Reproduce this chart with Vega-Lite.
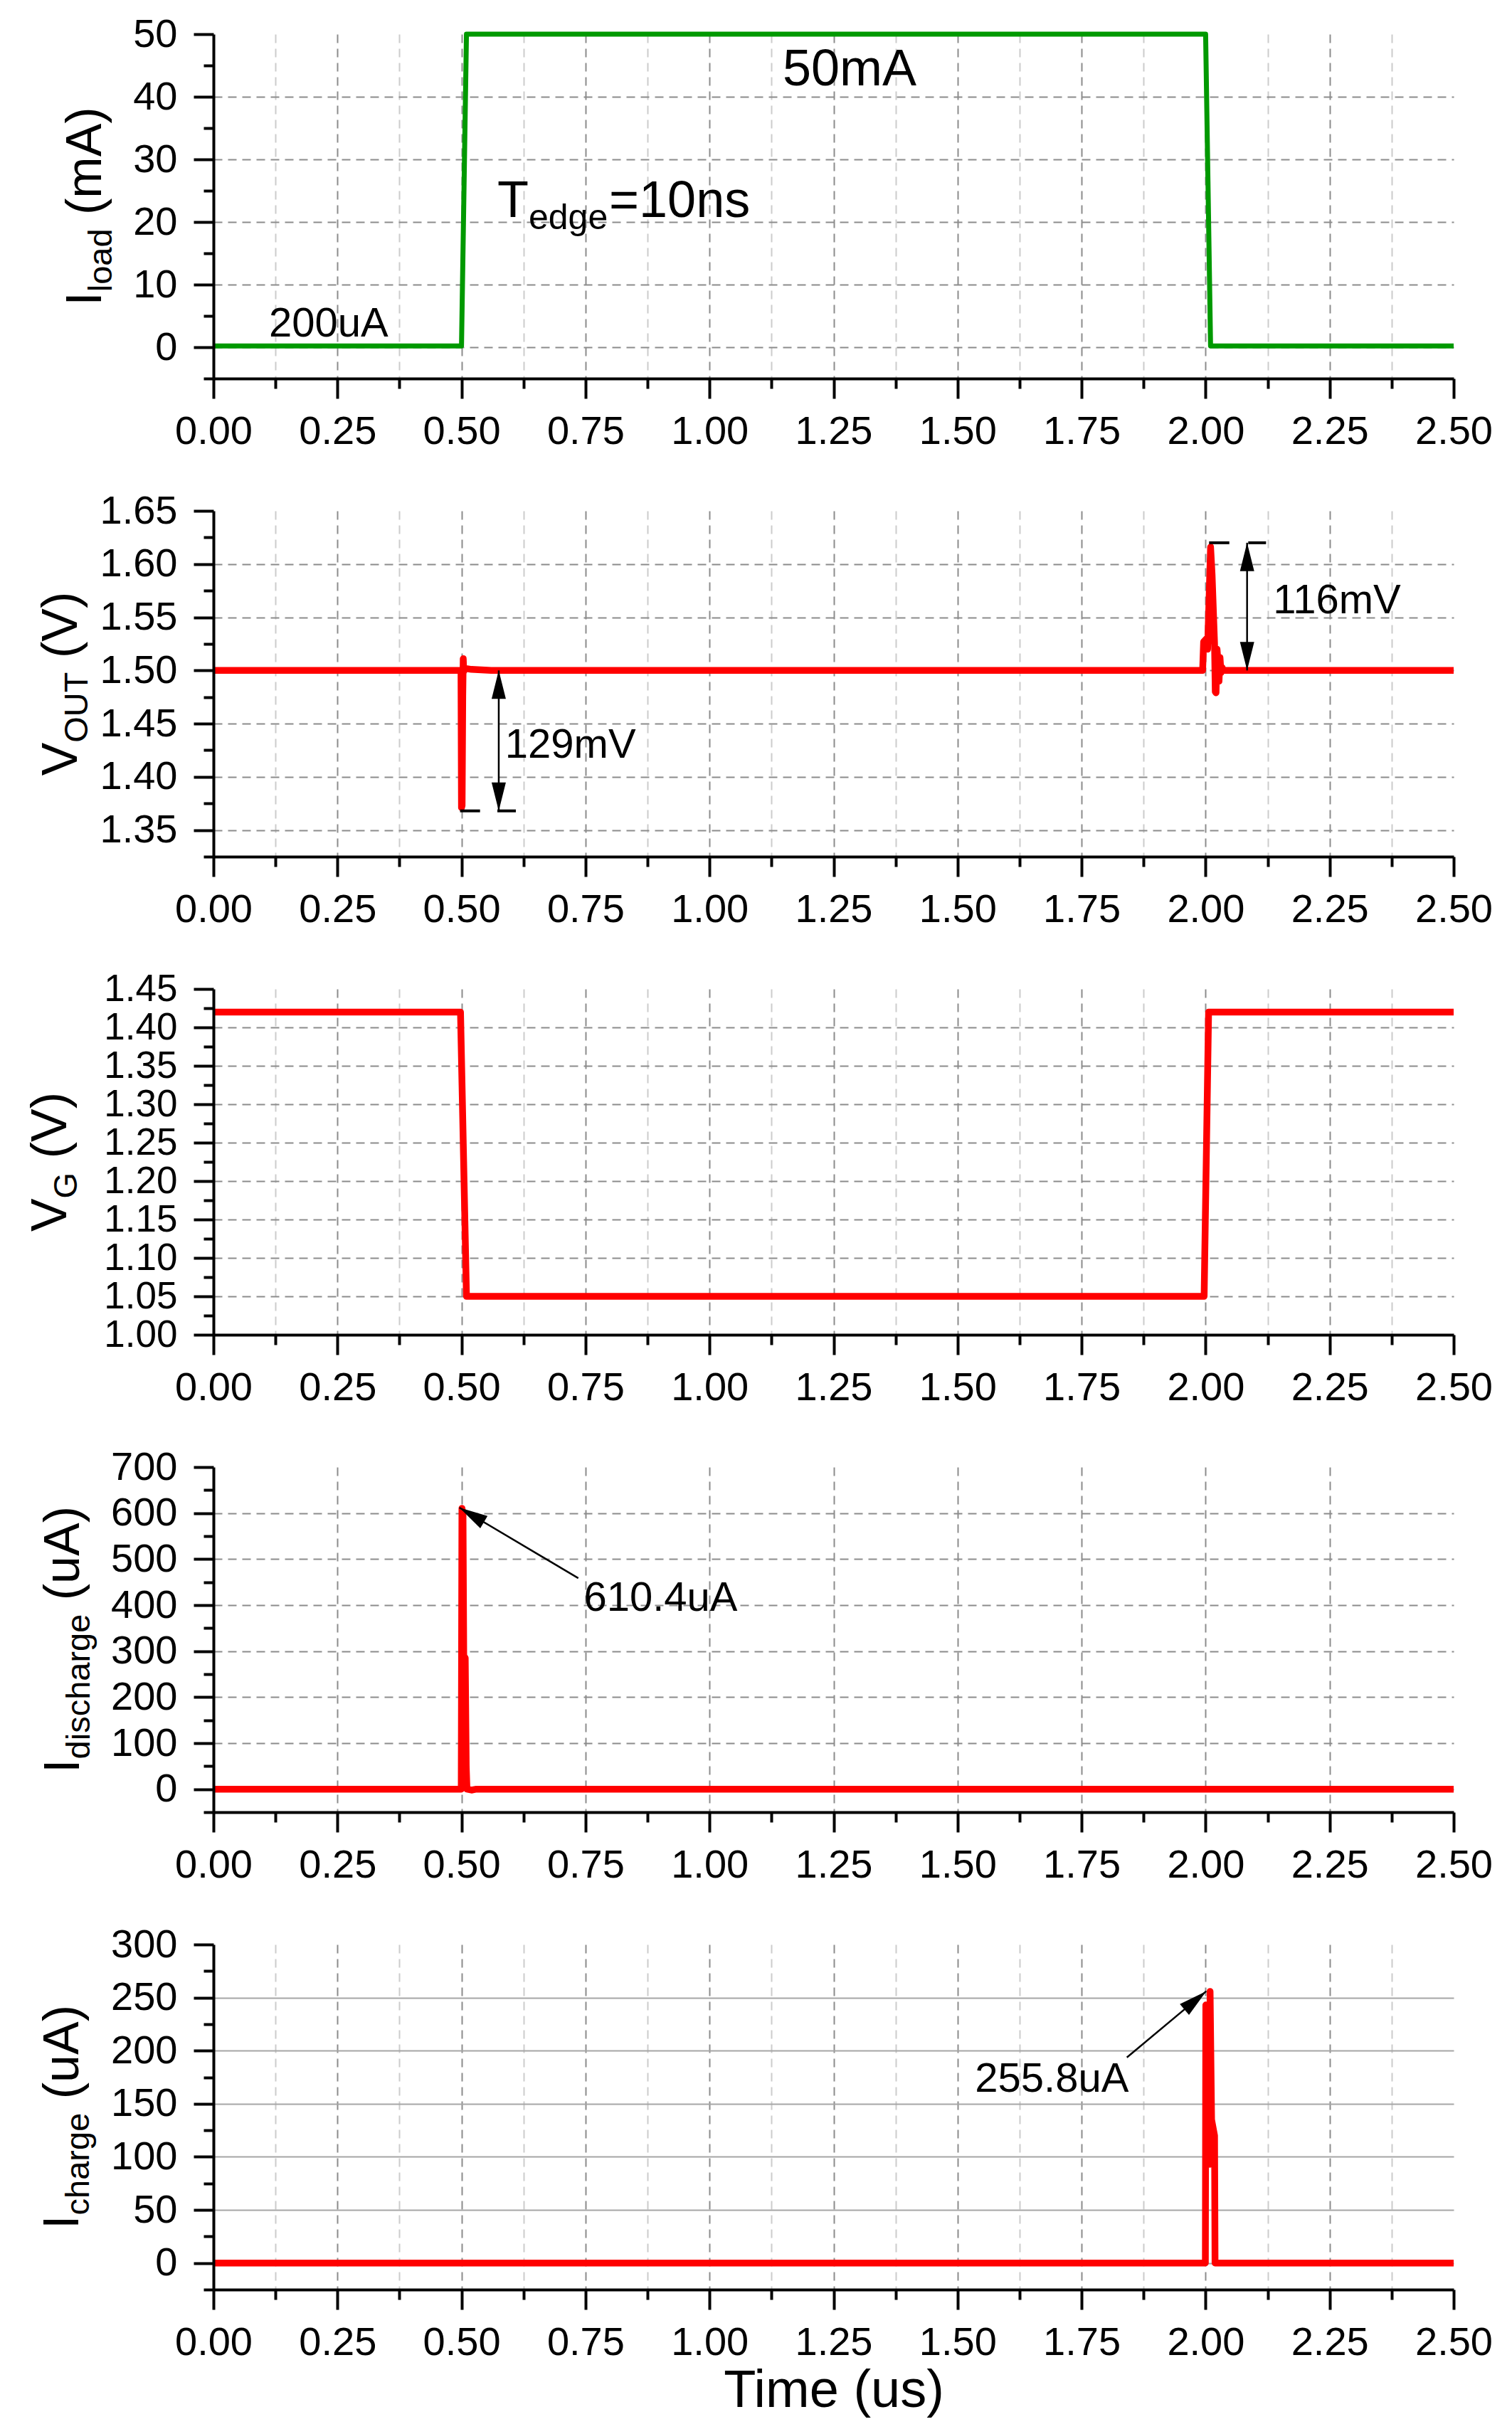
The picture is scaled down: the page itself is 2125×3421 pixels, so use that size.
{
"$schema": "https://vega.github.io/schema/vega-lite/v6.json",
"background": "white",
"padding": {"left": 37, "top": 20, "right": 10, "bottom": 10},
"bounds": "flush",
"spacing": 186,
"config": {
 "font": "Liberation Sans",
 "view": {"stroke": null},
 "axis": {"labelFont": "Liberation Sans", "labelFontSize": 56, "labelColor": "#000000", "tickColor": "#000000", "tickWidth": 4, "domainColor": "#000000", "domainWidth": 4, "labelOverlap": false, "labelFlush": false, "labelBound": false, "grid": false, "titleFont": "Liberation Sans", "titleColor": "#000000", "titleFontWeight": "normal"},
 "text": {"font": "Liberation Sans", "color": "#000000"}
},
"datasets": {
 "iload": [{"t":0,"v":0.2},{"t":0.5,"v":0.2},{"t":0.51,"v":50},{"t":2,"v":50},{"t":2.01,"v":0.2},{"t":2.5,"v":0.2}],
 "vout": [{"t":0,"v":1.5},{"t":0.499,"v":1.5},{"t":0.5,"v":1.371},{"t":0.5012,"v":1.373},{"t":0.5025,"v":1.476},{"t":0.5035,"v":1.511},{"t":0.5045,"v":1.499},{"t":0.507,"v":1.502},{"t":0.52,"v":1.501},{"t":0.56,"v":1.5},{"t":1.994,"v":1.5},{"t":1.996,"v":1.527},{"t":2.002,"v":1.53},{"t":2.004,"v":1.52},{"t":2.01,"v":1.616},{"t":2.013,"v":1.59},{"t":2.018,"v":1.525},{"t":2.0195,"v":1.48},{"t":2.021,"v":1.479},{"t":2.023,"v":1.52},{"t":2.025,"v":1.508},{"t":2.027,"v":1.49},{"t":2.029,"v":1.512},{"t":2.031,"v":1.498},{"t":2.033,"v":1.503},{"t":2.036,"v":1.5},{"t":2.5,"v":1.5}],
 "vg": [{"t":0,"v":1.42},{"t":0.498,"v":1.42},{"t":0.51,"v":1.05},{"t":1.997,"v":1.05},{"t":2.006,"v":1.42},{"t":2.5,"v":1.42}],
 "idis": [{"t":0,"v":0},{"t":0.4995,"v":0},{"t":0.5009,"v":610.4},{"t":0.503,"v":600},{"t":0.5045,"v":290},{"t":0.5075,"v":285},{"t":0.5095,"v":50},{"t":0.511,"v":0},{"t":0.52,"v":-2},{"t":0.53,"v":0},{"t":2.5,"v":0}],
 "ichg": [{"t":0,"v":0},{"t":1.9995,"v":0},{"t":2.0004,"v":243},{"t":2.0085,"v":93},{"t":2.009,"v":255.8},{"t":2.012,"v":135},{"t":2.018,"v":120},{"t":2.019,"v":0},{"t":2.5,"v":0}],
 "notes": [
  {"p":"p1","k":"yt","t":"I","x":-0.2266,"y":6.625},
  {"p":"p1","k":"ys","t":"load","x":-0.2266,"y":8.836},
  {"p":"p1","k":"yt","t":"(mA)","x":-0.2266,"y":21.142},
  {"p":"p1","k":"note","t":"200uA","x":0.1119,"y":1.7},
  {"p":"p1","k":"big","t":"50mA","x":1.1475,"y":41.8},
  {"p":"p1","k":"big","t":"T","x":0.5723,"y":20.8},
  {"p":"p1","k":"small","t":"edge","x":0.6354,"y":18.9},
  {"p":"p1","k":"big","t":"=10ns","x":0.7975,"y":20.8},
  {"p":"p2","k":"yt","t":"V","x":-0.275,"y":1.401},
  {"p":"p2","k":"ys","t":"OUT","x":-0.275,"y":1.4322},
  {"p":"p2","k":"yt","t":"(V)","x":-0.275,"y":1.5116},
  {"p":"p2","k":"note","t":"129mV","x":0.5878,"y":1.4177},
  {"p":"p2","k":"note","t":"116mV","x":2.136,"y":1.5537},
  {"p":"p3","k":"yt","t":"V","x":-0.2962,"y":1.1342},
  {"p":"p3","k":"ys","t":"G","x":-0.2962,"y":1.1774},
  {"p":"p3","k":"yt","t":"(V)","x":-0.2962,"y":1.2294},
  {"p":"p4","k":"yt","t":"I","x":-0.2711,"y":35.2},
  {"p":"p4","k":"ys","t":"discharge","x":-0.2711,"y":65.3},
  {"p":"p4","k":"yt","t":"(uA)","x":-0.2711,"y":410.4},
  {"p":"p4","k":"note","t":"610.4uA","x":0.7464,"y":388.4},
  {"p":"p5","k":"yt","t":"I","x":-0.2725,"y":32.03},
  {"p":"p5","k":"ys","t":"charge","x":-0.2725,"y":45.07},
  {"p":"p5","k":"yt","t":"(uA)","x":-0.2725,"y":154.4},
  {"p":"p5","k":"note","t":"255.8uA","x":1.5351,"y":161.2}
 ],
 "segs": [
  {"p":"p2","k":"bar","x":0.4971,"x2":0.5374,"y":1.368,"y2":1.368},
  {"p":"p2","k":"bar","x":0.5723,"x2":0.6096,"y":1.368,"y2":1.368},
  {"p":"p2","k":"bar","x":2.007,"x2":2.0478,"y":1.62,"y2":1.62},
  {"p":"p2","k":"bar","x":2.0859,"x2":2.1218,"y":1.62,"y2":1.62},
  {"p":"p2","k":"shaft","x":0.5751,"x2":0.5751,"y":1.5,"y2":1.368},
  {"p":"p2","k":"shaft","x":2.0836,"x2":2.0836,"y":1.62,"y2":1.5},
  {"p":"p4","k":"shaft","x":0.7354,"x2":0.4958,"y":458.5,"y2":611.8},
  {"p":"p5","k":"shaft","x":1.8413,"x2":2.0013,"y":193.6,"y2":256}
 ],
 "heads": [
  {"p":"p2","x":0.5751,"y":1.5,"dir":0},
  {"p":"p2","x":0.5751,"y":1.368,"dir":180},
  {"p":"p2","x":2.0836,"y":1.62,"dir":0},
  {"p":"p2","x":2.0836,"y":1.5,"dir":180},
  {"p":"p4","x":0.4958,"y":611.8,"dir":300.6},
  {"p":"p5","x":2.0013,"y":256,"dir":50.1}
 ]
},
"vconcat": [
 {
  "width": 1743, "height": 484,
  "resolve": {"axis": {"x": "independent", "y": "independent"}},
  "layer": [
   {"data": {"name": "iload"}, "mark": {"type": "line", "strokeOpacity": 0},
    "encoding": {
     "x": {"field": "t", "type": "quantitative", "scale": {"domain": [0, 2.5], "nice": false, "zero": false}, "axis": {"orient": "bottom", "values": [0.25,0.5,0.75,1,1.25,1.5,1.75,2,2.25], "grid": true, "gridColor": "#8c8c8c", "gridDash": [12,8], "gridWidth": 2, "ticks": false, "labels": false, "domain": false, "title": null}},
     "y": {"field": "v", "type": "quantitative", "scale": {"domain": [-5, 50], "nice": false, "zero": false}, "axis": {"orient": "left", "values": [0,10,20,30,40], "grid": true, "gridColor": "#8c8c8c", "gridDash": [12,8], "gridWidth": 2, "ticks": false, "labels": false, "domain": false, "title": null}}
    }},
   {"data": {"name": "iload"}, "mark": {"type": "line", "strokeOpacity": 0},
    "encoding": {
     "x": {"field": "t", "type": "quantitative", "scale": {"domain": [0, 2.5], "nice": false, "zero": false}, "axis": {"orient": "bottom", "values": [0.125,0.375,0.625,0.875,1.125,1.375,1.625,1.875,2.125,2.375], "grid": true, "gridColor": "#cccccc", "gridDash": [12,8], "gridWidth": 2, "ticks": true, "tickSize": 14, "labels": false, "domain": false, "title": null}},
     "y": {"field": "v", "type": "quantitative", "scale": {"domain": [-5, 50], "nice": false, "zero": false}, "axis": {"orient": "left", "values": [-5,5,15,25,35,45], "ticks": true, "tickSize": 14, "labels": false, "domain": false, "title": null}}
    }},
   {"data": {"name": "iload"}, "mark": {"type": "line", "color": "#009900", "strokeWidth": 7, "strokeJoin": "round"},
    "encoding": {
     "x": {"field": "t", "type": "quantitative", "scale": {"domain": [0, 2.5], "nice": false, "zero": false}, "axis": {"orient": "bottom", "values": [0,0.25,0.5,0.75,1,1.25,1.5,1.75,2,2.25,2.5], "format": ".2f", "tickSize": 28, "labelPadding": 19, "title": null, "zindex": 1}},
     "y": {"field": "v", "type": "quantitative", "scale": {"domain": [-5, 50], "nice": false, "zero": false}, "axis": {"orient": "left", "values": [0,10,20,30,40,50], "format": "d", "tickSize": 28, "labelPadding": 23, "title": null, "zindex": 1}}
    }},
   {"data": {"name": "notes"}, "transform": [{"filter": "datum.p == 'p1' && datum.k == 'yt'"}],
    "mark": {"type": "text", "fontSize": 70, "angle": 270, "align": "left", "baseline": "alphabetic"},
    "encoding": {"x": {"field": "x", "type": "quantitative", "scale": {"domain": [0, 2.5], "nice": false, "zero": false}, "axis": null}, "y": {"field": "y", "type": "quantitative", "scale": {"domain": [-5, 50], "nice": false, "zero": false}, "axis": null}, "text": {"field": "t"}}},
   {"data": {"name": "notes"}, "transform": [{"filter": "datum.p == 'p1' && datum.k == 'ys'"}],
    "mark": {"type": "text", "fontSize": 47, "angle": 270, "align": "left", "baseline": "alphabetic", "dy": 15},
    "encoding": {"x": {"field": "x", "type": "quantitative", "scale": {"domain": [0, 2.5], "nice": false, "zero": false}, "axis": null}, "y": {"field": "y", "type": "quantitative", "scale": {"domain": [-5, 50], "nice": false, "zero": false}, "axis": null}, "text": {"field": "t"}}},
   {"data": {"name": "notes"}, "transform": [{"filter": "datum.p == 'p1' && datum.k == 'note'"}],
    "mark": {"type": "text", "fontSize": 58, "align": "left", "baseline": "alphabetic"},
    "encoding": {"x": {"field": "x", "type": "quantitative", "scale": {"domain": [0, 2.5], "nice": false, "zero": false}, "axis": null}, "y": {"field": "y", "type": "quantitative", "scale": {"domain": [-5, 50], "nice": false, "zero": false}, "axis": null}, "text": {"field": "t"}}},
   {"data": {"name": "notes"}, "transform": [{"filter": "datum.p == 'p1' && datum.k == 'big'"}],
    "mark": {"type": "text", "fontSize": 72, "align": "left", "baseline": "alphabetic"},
    "encoding": {"x": {"field": "x", "type": "quantitative", "scale": {"domain": [0, 2.5], "nice": false, "zero": false}, "axis": null}, "y": {"field": "y", "type": "quantitative", "scale": {"domain": [-5, 50], "nice": false, "zero": false}, "axis": null}, "text": {"field": "t"}}},
   {"data": {"name": "notes"}, "transform": [{"filter": "datum.p == 'p1' && datum.k == 'small'"}],
    "mark": {"type": "text", "fontSize": 50, "align": "left", "baseline": "alphabetic"},
    "encoding": {"x": {"field": "x", "type": "quantitative", "scale": {"domain": [0, 2.5], "nice": false, "zero": false}, "axis": null}, "y": {"field": "y", "type": "quantitative", "scale": {"domain": [-5, 50], "nice": false, "zero": false}, "axis": null}, "text": {"field": "t"}}}
  ]
 },
 {
  "width": 1743, "height": 486,
  "resolve": {"axis": {"x": "independent", "y": "independent"}},
  "layer": [
   {"data": {"name": "vout"}, "mark": {"type": "line", "strokeOpacity": 0},
    "encoding": {
     "x": {"field": "t", "type": "quantitative", "scale": {"domain": [0, 2.5], "nice": false, "zero": false}, "axis": {"orient": "bottom", "values": [0.25,0.5,0.75,1,1.25,1.5,1.75,2,2.25], "grid": true, "gridColor": "#8c8c8c", "gridDash": [12,8], "gridWidth": 2, "ticks": false, "labels": false, "domain": false, "title": null}},
     "y": {"field": "v", "type": "quantitative", "scale": {"domain": [1.325, 1.65], "nice": false, "zero": false}, "axis": {"orient": "left", "values": [1.35,1.4,1.45,1.5,1.55,1.6], "grid": true, "gridColor": "#8c8c8c", "gridDash": [12,8], "gridWidth": 2, "ticks": false, "labels": false, "domain": false, "title": null}}
    }},
   {"data": {"name": "vout"}, "mark": {"type": "line", "strokeOpacity": 0},
    "encoding": {
     "x": {"field": "t", "type": "quantitative", "scale": {"domain": [0, 2.5], "nice": false, "zero": false}, "axis": {"orient": "bottom", "values": [0.125,0.375,0.625,0.875,1.125,1.375,1.625,1.875,2.125,2.375], "grid": true, "gridColor": "#cccccc", "gridDash": [12,8], "gridWidth": 2, "ticks": true, "tickSize": 14, "labels": false, "domain": false, "title": null}},
     "y": {"field": "v", "type": "quantitative", "scale": {"domain": [1.325, 1.65], "nice": false, "zero": false}, "axis": {"orient": "left", "values": [1.325,1.375,1.425,1.475,1.525,1.575,1.625], "ticks": true, "tickSize": 14, "labels": false, "domain": false, "title": null}}
    }},
   {"data": {"name": "vout"}, "mark": {"type": "line", "color": "#ff0000", "strokeWidth": 9.5, "strokeJoin": "round"},
    "encoding": {
     "x": {"field": "t", "type": "quantitative", "scale": {"domain": [0, 2.5], "nice": false, "zero": false}, "axis": {"orient": "bottom", "values": [0,0.25,0.5,0.75,1,1.25,1.5,1.75,2,2.25,2.5], "format": ".2f", "tickSize": 28, "labelPadding": 19, "title": null, "zindex": 1}},
     "y": {"field": "v", "type": "quantitative", "scale": {"domain": [1.325, 1.65], "nice": false, "zero": false}, "axis": {"orient": "left", "values": [1.35,1.4,1.45,1.5,1.55,1.6,1.65], "format": ".2f", "tickSize": 28, "labelPadding": 23, "title": null, "zindex": 1}}
    }},
   {"data": {"name": "segs"}, "transform": [{"filter": "datum.p == 'p2' && datum.k == 'bar'"}],
    "mark": {"type": "rule", "color": "#000000", "strokeWidth": 4},
    "encoding": {"x": {"field": "x", "type": "quantitative", "scale": {"domain": [0, 2.5], "nice": false, "zero": false}, "axis": null}, "x2": {"field": "x2"}, "y": {"field": "y", "type": "quantitative", "scale": {"domain": [1.325, 1.65], "nice": false, "zero": false}, "axis": null}, "y2": {"field": "y2"}}},
   {"data": {"name": "segs"}, "transform": [{"filter": "datum.p == 'p2' && datum.k == 'shaft'"}],
    "mark": {"type": "rule", "color": "#000000", "strokeWidth": 2.5},
    "encoding": {"x": {"field": "x", "type": "quantitative", "scale": {"domain": [0, 2.5], "nice": false, "zero": false}, "axis": null}, "x2": {"field": "x2"}, "y": {"field": "y", "type": "quantitative", "scale": {"domain": [1.325, 1.65], "nice": false, "zero": false}, "axis": null}, "y2": {"field": "y2"}}},
   {"data": {"name": "heads"}, "transform": [{"filter": "datum.p == 'p2'"}],
    "mark": {"type": "point", "shape": "M0,0L0.5,2L-0.5,2Z", "filled": true, "color": "#000000", "opacity": 1, "size": 1600, "strokeWidth": 0},
    "encoding": {"x": {"field": "x", "type": "quantitative", "scale": {"domain": [0, 2.5], "nice": false, "zero": false}, "axis": null}, "y": {"field": "y", "type": "quantitative", "scale": {"domain": [1.325, 1.65], "nice": false, "zero": false}, "axis": null}, "angle": {"field": "dir", "type": "quantitative", "scale": null}}},
   {"data": {"name": "notes"}, "transform": [{"filter": "datum.p == 'p2' && datum.k == 'yt'"}],
    "mark": {"type": "text", "fontSize": 70, "angle": 270, "align": "left", "baseline": "alphabetic"},
    "encoding": {"x": {"field": "x", "type": "quantitative", "scale": {"domain": [0, 2.5], "nice": false, "zero": false}, "axis": null}, "y": {"field": "y", "type": "quantitative", "scale": {"domain": [1.325, 1.65], "nice": false, "zero": false}, "axis": null}, "text": {"field": "t"}}},
   {"data": {"name": "notes"}, "transform": [{"filter": "datum.p == 'p2' && datum.k == 'ys'"}],
    "mark": {"type": "text", "fontSize": 47, "angle": 270, "align": "left", "baseline": "alphabetic", "dy": 15},
    "encoding": {"x": {"field": "x", "type": "quantitative", "scale": {"domain": [0, 2.5], "nice": false, "zero": false}, "axis": null}, "y": {"field": "y", "type": "quantitative", "scale": {"domain": [1.325, 1.65], "nice": false, "zero": false}, "axis": null}, "text": {"field": "t"}}},
   {"data": {"name": "notes"}, "transform": [{"filter": "datum.p == 'p2' && datum.k == 'note'"}],
    "mark": {"type": "text", "fontSize": 58, "align": "left", "baseline": "alphabetic"},
    "encoding": {"x": {"field": "x", "type": "quantitative", "scale": {"domain": [0, 2.5], "nice": false, "zero": false}, "axis": null}, "y": {"field": "y", "type": "quantitative", "scale": {"domain": [1.325, 1.65], "nice": false, "zero": false}, "axis": null}, "text": {"field": "t"}}}
  ]
 },
 {
  "width": 1743, "height": 486,
  "resolve": {"axis": {"x": "independent", "y": "independent"}},
  "layer": [
   {"data": {"name": "vg"}, "mark": {"type": "line", "strokeOpacity": 0},
    "encoding": {
     "x": {"field": "t", "type": "quantitative", "scale": {"domain": [0, 2.5], "nice": false, "zero": false}, "axis": {"orient": "bottom", "values": [0.25,0.5,0.75,1,1.25,1.5,1.75,2,2.25], "grid": true, "gridColor": "#8c8c8c", "gridDash": [12,8], "gridWidth": 2, "ticks": false, "labels": false, "domain": false, "title": null}},
     "y": {"field": "v", "type": "quantitative", "scale": {"domain": [1.0, 1.45], "nice": false, "zero": false}, "axis": {"orient": "left", "values": [1.05,1.1,1.15,1.2,1.25,1.3,1.35,1.4], "grid": true, "gridColor": "#8c8c8c", "gridDash": [12,8], "gridWidth": 2, "ticks": false, "labels": false, "domain": false, "title": null}}
    }},
   {"data": {"name": "vg"}, "mark": {"type": "line", "strokeOpacity": 0},
    "encoding": {
     "x": {"field": "t", "type": "quantitative", "scale": {"domain": [0, 2.5], "nice": false, "zero": false}, "axis": {"orient": "bottom", "values": [0.125,0.375,0.625,0.875,1.125,1.375,1.625,1.875,2.125,2.375], "grid": true, "gridColor": "#cccccc", "gridDash": [12,8], "gridWidth": 2, "ticks": true, "tickSize": 14, "labels": false, "domain": false, "title": null}},
     "y": {"field": "v", "type": "quantitative", "scale": {"domain": [1.0, 1.45], "nice": false, "zero": false}, "axis": {"orient": "left", "values": [1.025,1.075,1.125,1.175,1.225,1.275,1.325,1.375,1.425], "ticks": true, "tickSize": 14, "labels": false, "domain": false, "title": null}}
    }},
   {"data": {"name": "vg"}, "mark": {"type": "line", "color": "#ff0000", "strokeWidth": 9.5, "strokeJoin": "round"},
    "encoding": {
     "x": {"field": "t", "type": "quantitative", "scale": {"domain": [0, 2.5], "nice": false, "zero": false}, "axis": {"orient": "bottom", "values": [0,0.25,0.5,0.75,1,1.25,1.5,1.75,2,2.25,2.5], "format": ".2f", "tickSize": 28, "labelPadding": 19, "title": null, "zindex": 1}},
     "y": {"field": "v", "type": "quantitative", "scale": {"domain": [1.0, 1.45], "nice": false, "zero": false}, "axis": {"orient": "left", "values": [1.0,1.05,1.1,1.15,1.2,1.25,1.3,1.35,1.4,1.45], "format": ".2f", "labelFontSize": 53, "tickSize": 28, "labelPadding": 23, "title": null, "zindex": 1}}
    }},
   {"data": {"name": "notes"}, "transform": [{"filter": "datum.p == 'p3' && datum.k == 'yt'"}],
    "mark": {"type": "text", "fontSize": 70, "angle": 270, "align": "left", "baseline": "alphabetic"},
    "encoding": {"x": {"field": "x", "type": "quantitative", "scale": {"domain": [0, 2.5], "nice": false, "zero": false}, "axis": null}, "y": {"field": "y", "type": "quantitative", "scale": {"domain": [1.0, 1.45], "nice": false, "zero": false}, "axis": null}, "text": {"field": "t"}}},
   {"data": {"name": "notes"}, "transform": [{"filter": "datum.p == 'p3' && datum.k == 'ys'"}],
    "mark": {"type": "text", "fontSize": 47, "angle": 270, "align": "left", "baseline": "alphabetic", "dy": 15},
    "encoding": {"x": {"field": "x", "type": "quantitative", "scale": {"domain": [0, 2.5], "nice": false, "zero": false}, "axis": null}, "y": {"field": "y", "type": "quantitative", "scale": {"domain": [1.0, 1.45], "nice": false, "zero": false}, "axis": null}, "text": {"field": "t"}}}
  ]
 },
 {
  "width": 1743, "height": 485,
  "resolve": {"axis": {"x": "independent", "y": "independent"}},
  "layer": [
   {"data": {"name": "idis"}, "mark": {"type": "line", "strokeOpacity": 0},
    "encoding": {
     "x": {"field": "t", "type": "quantitative", "scale": {"domain": [0, 2.5], "nice": false, "zero": false}, "axis": {"orient": "bottom", "values": [0.25,0.5,0.75,1,1.25,1.5,1.75,2,2.25], "grid": true, "gridColor": "#8c8c8c", "gridDash": [12,8], "gridWidth": 2, "ticks": false, "labels": false, "domain": false, "title": null}},
     "y": {"field": "v", "type": "quantitative", "scale": {"domain": [-50, 700], "nice": false, "zero": false}, "axis": {"orient": "left", "values": [0,100,200,300,400,500,600], "grid": true, "gridColor": "#8c8c8c", "gridDash": [12,8], "gridWidth": 2, "ticks": false, "labels": false, "domain": false, "title": null}}
    }},
   {"data": {"name": "idis"}, "mark": {"type": "line", "strokeOpacity": 0},
    "encoding": {
     "x": {"field": "t", "type": "quantitative", "scale": {"domain": [0, 2.5], "nice": false, "zero": false}, "axis": {"orient": "bottom", "values": [0.125,0.375,0.625,0.875,1.125,1.375,1.625,1.875,2.125,2.375], "grid": false, "ticks": true, "tickSize": 14, "labels": false, "domain": false, "title": null}},
     "y": {"field": "v", "type": "quantitative", "scale": {"domain": [-50, 700], "nice": false, "zero": false}, "axis": {"orient": "left", "values": [-50,50,150,250,350,450,550,650], "ticks": true, "tickSize": 14, "labels": false, "domain": false, "title": null}}
    }},
   {"data": {"name": "idis"}, "mark": {"type": "line", "color": "#ff0000", "strokeWidth": 9.5, "strokeJoin": "round"},
    "encoding": {
     "x": {"field": "t", "type": "quantitative", "scale": {"domain": [0, 2.5], "nice": false, "zero": false}, "axis": {"orient": "bottom", "values": [0,0.25,0.5,0.75,1,1.25,1.5,1.75,2,2.25,2.5], "format": ".2f", "tickSize": 28, "labelPadding": 19, "title": null, "zindex": 1}},
     "y": {"field": "v", "type": "quantitative", "scale": {"domain": [-50, 700], "nice": false, "zero": false}, "axis": {"orient": "left", "values": [0,100,200,300,400,500,600,700], "format": "d", "tickSize": 28, "labelPadding": 23, "title": null, "zindex": 1}}
    }},
   {"data": {"name": "segs"}, "transform": [{"filter": "datum.p == 'p4'"}],
    "mark": {"type": "rule", "color": "#000000", "strokeWidth": 2.5},
    "encoding": {"x": {"field": "x", "type": "quantitative", "scale": {"domain": [0, 2.5], "nice": false, "zero": false}, "axis": null}, "x2": {"field": "x2"}, "y": {"field": "y", "type": "quantitative", "scale": {"domain": [-50, 700], "nice": false, "zero": false}, "axis": null}, "y2": {"field": "y2"}}},
   {"data": {"name": "heads"}, "transform": [{"filter": "datum.p == 'p4'"}],
    "mark": {"type": "point", "shape": "M0,0L0.5,2L-0.5,2Z", "filled": true, "color": "#000000", "opacity": 1, "size": 1600, "strokeWidth": 0},
    "encoding": {"x": {"field": "x", "type": "quantitative", "scale": {"domain": [0, 2.5], "nice": false, "zero": false}, "axis": null}, "y": {"field": "y", "type": "quantitative", "scale": {"domain": [-50, 700], "nice": false, "zero": false}, "axis": null}, "angle": {"field": "dir", "type": "quantitative", "scale": null}}},
   {"data": {"name": "notes"}, "transform": [{"filter": "datum.p == 'p4' && datum.k == 'yt'"}],
    "mark": {"type": "text", "fontSize": 70, "angle": 270, "align": "left", "baseline": "alphabetic"},
    "encoding": {"x": {"field": "x", "type": "quantitative", "scale": {"domain": [0, 2.5], "nice": false, "zero": false}, "axis": null}, "y": {"field": "y", "type": "quantitative", "scale": {"domain": [-50, 700], "nice": false, "zero": false}, "axis": null}, "text": {"field": "t"}}},
   {"data": {"name": "notes"}, "transform": [{"filter": "datum.p == 'p4' && datum.k == 'ys'"}],
    "mark": {"type": "text", "fontSize": 47, "angle": 270, "align": "left", "baseline": "alphabetic", "dy": 15},
    "encoding": {"x": {"field": "x", "type": "quantitative", "scale": {"domain": [0, 2.5], "nice": false, "zero": false}, "axis": null}, "y": {"field": "y", "type": "quantitative", "scale": {"domain": [-50, 700], "nice": false, "zero": false}, "axis": null}, "text": {"field": "t"}}},
   {"data": {"name": "notes"}, "transform": [{"filter": "datum.p == 'p4' && datum.k == 'note'"}],
    "mark": {"type": "text", "fontSize": 58, "align": "left", "baseline": "alphabetic"},
    "encoding": {"x": {"field": "x", "type": "quantitative", "scale": {"domain": [0, 2.5], "nice": false, "zero": false}, "axis": null}, "y": {"field": "y", "type": "quantitative", "scale": {"domain": [-50, 700], "nice": false, "zero": false}, "axis": null}, "text": {"field": "t"}}}
  ]
 },
 {
  "width": 1743, "height": 485,
  "resolve": {"axis": {"x": "independent", "y": "independent"}},
  "layer": [
   {"data": {"name": "ichg"}, "mark": {"type": "line", "strokeOpacity": 0},
    "encoding": {
     "x": {"field": "t", "type": "quantitative", "scale": {"domain": [0, 2.5], "nice": false, "zero": false}, "axis": {"orient": "bottom", "values": [0.25,0.5,0.75,1,1.25,1.5,1.75,2,2.25], "grid": true, "gridColor": "#8c8c8c", "gridDash": [12,8], "gridWidth": 2, "ticks": false, "labels": false, "domain": false, "title": null}},
     "y": {"field": "v", "type": "quantitative", "scale": {"domain": [-25, 300], "nice": false, "zero": false}, "axis": {"orient": "left", "values": [0,50,100,150,200,250], "grid": true, "gridColor": "#a6a6a6", "gridWidth": 2, "ticks": false, "labels": false, "domain": false, "title": null}}
    }},
   {"data": {"name": "ichg"}, "mark": {"type": "line", "strokeOpacity": 0},
    "encoding": {
     "x": {"field": "t", "type": "quantitative", "scale": {"domain": [0, 2.5], "nice": false, "zero": false}, "axis": {"orient": "bottom", "values": [0.125,0.375,0.625,0.875,1.125,1.375,1.625,1.875,2.125,2.375], "grid": true, "gridColor": "#cccccc", "gridDash": [12,8], "gridWidth": 2, "ticks": true, "tickSize": 14, "labels": false, "domain": false, "title": null}},
     "y": {"field": "v", "type": "quantitative", "scale": {"domain": [-25, 300], "nice": false, "zero": false}, "axis": {"orient": "left", "values": [-25,25,75,125,175,225,275], "ticks": true, "tickSize": 14, "labels": false, "domain": false, "title": null}}
    }},
   {"data": {"name": "ichg"}, "mark": {"type": "line", "color": "#ff0000", "strokeWidth": 9.5, "strokeJoin": "round"},
    "encoding": {
     "x": {"field": "t", "type": "quantitative", "scale": {"domain": [0, 2.5], "nice": false, "zero": false}, "axis": {"orient": "bottom", "values": [0,0.25,0.5,0.75,1,1.25,1.5,1.75,2,2.25,2.5], "format": ".2f", "tickSize": 28, "labelPadding": 19, "title": "Time (us)", "titleFontSize": 74, "titleY": 164, "titleBaseline": "alphabetic", "zindex": 1}},
     "y": {"field": "v", "type": "quantitative", "scale": {"domain": [-25, 300], "nice": false, "zero": false}, "axis": {"orient": "left", "values": [0,50,100,150,200,250,300], "format": "d", "tickSize": 28, "labelPadding": 23, "title": null, "zindex": 1}}
    }},
   {"data": {"name": "segs"}, "transform": [{"filter": "datum.p == 'p5'"}],
    "mark": {"type": "rule", "color": "#000000", "strokeWidth": 2.5},
    "encoding": {"x": {"field": "x", "type": "quantitative", "scale": {"domain": [0, 2.5], "nice": false, "zero": false}, "axis": null}, "x2": {"field": "x2"}, "y": {"field": "y", "type": "quantitative", "scale": {"domain": [-25, 300], "nice": false, "zero": false}, "axis": null}, "y2": {"field": "y2"}}},
   {"data": {"name": "heads"}, "transform": [{"filter": "datum.p == 'p5'"}],
    "mark": {"type": "point", "shape": "M0,0L0.5,2L-0.5,2Z", "filled": true, "color": "#000000", "opacity": 1, "size": 1600, "strokeWidth": 0},
    "encoding": {"x": {"field": "x", "type": "quantitative", "scale": {"domain": [0, 2.5], "nice": false, "zero": false}, "axis": null}, "y": {"field": "y", "type": "quantitative", "scale": {"domain": [-25, 300], "nice": false, "zero": false}, "axis": null}, "angle": {"field": "dir", "type": "quantitative", "scale": null}}},
   {"data": {"name": "notes"}, "transform": [{"filter": "datum.p == 'p5' && datum.k == 'yt'"}],
    "mark": {"type": "text", "fontSize": 70, "angle": 270, "align": "left", "baseline": "alphabetic"},
    "encoding": {"x": {"field": "x", "type": "quantitative", "scale": {"domain": [0, 2.5], "nice": false, "zero": false}, "axis": null}, "y": {"field": "y", "type": "quantitative", "scale": {"domain": [-25, 300], "nice": false, "zero": false}, "axis": null}, "text": {"field": "t"}}},
   {"data": {"name": "notes"}, "transform": [{"filter": "datum.p == 'p5' && datum.k == 'ys'"}],
    "mark": {"type": "text", "fontSize": 47, "angle": 270, "align": "left", "baseline": "alphabetic", "dy": 15},
    "encoding": {"x": {"field": "x", "type": "quantitative", "scale": {"domain": [0, 2.5], "nice": false, "zero": false}, "axis": null}, "y": {"field": "y", "type": "quantitative", "scale": {"domain": [-25, 300], "nice": false, "zero": false}, "axis": null}, "text": {"field": "t"}}},
   {"data": {"name": "notes"}, "transform": [{"filter": "datum.p == 'p5' && datum.k == 'note'"}],
    "mark": {"type": "text", "fontSize": 58, "align": "left", "baseline": "alphabetic"},
    "encoding": {"x": {"field": "x", "type": "quantitative", "scale": {"domain": [0, 2.5], "nice": false, "zero": false}, "axis": null}, "y": {"field": "y", "type": "quantitative", "scale": {"domain": [-25, 300], "nice": false, "zero": false}, "axis": null}, "text": {"field": "t"}}}
  ]
 }
]
}
